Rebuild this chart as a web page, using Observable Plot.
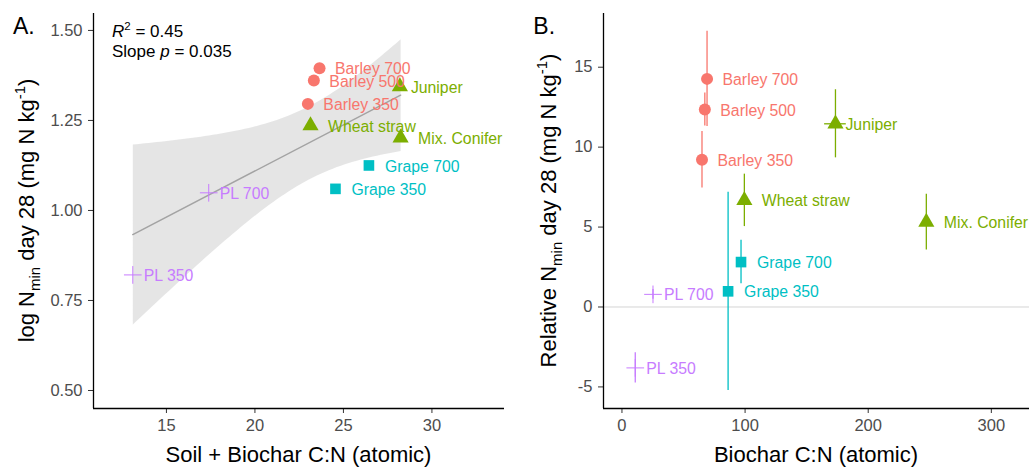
<!DOCTYPE html>
<html><head><meta charset="utf-8">
<script src="https://cdn.jsdelivr.net/npm/d3@7"></script>
<script src="https://cdn.jsdelivr.net/npm/@observablehq/plot@0.6"></script>
<style>
body{margin:0;background:#fff;}
#wrap{position:relative;width:1029px;height:467px;overflow:hidden;background:#fff;}
.panel{position:absolute;top:0;}
</style></head><body>
<div id="wrap"><div id="a" class="panel" style="left:0"></div><div id="b" class="panel" style="left:515px"></div></div>
<script>
// ---- data ----
const labels = ["Barley 350","Barley 500","Barley 700","Juniper","Mix. Conifer","Wheat straw","Grape 350","Grape 700","PL 350","PL 700"];
const groups = ["Barley","Barley","Barley","Wood","Wood","Wood","Grape","Grape","PL","PL"];
const groupNames = ["Barley","Wood","Grape","PL"];
const groupColors = ["#F8766D","#7CAE00","#00BFC4","#C77CFF"];
const groupSymbols = ["circle","triangle","square","plus"];
// Panel A: soil + biochar C:N vs log Nmin
const xA = [22.99, 23.33, 23.65, 28.19, 28.23, 23.14, 24.55, 26.44, 13.1, 17.39];
const yA = [1.296, 1.361, 1.395, 1.344, 1.202, 1.236, 1.06, 1.125, 0.821, 1.049];
// Panel B: biochar C:N vs relative Nmin, with errors
const xB = [65.0, 67.3, 69.1, 173.4, 247.2, 99.4, 86.2, 96.7, 10.8, 25.2];
const yB = [9.21, 12.35, 14.27, 11.46, 5.31, 6.67, 0.98, 2.81, -3.81, 0.79];
const yErrB = [1.77, 1.03, 2.98, 2.13, 1.75, 1.64, 6.2, 1.36, 0.95, 0.3];
const xErrB = [0, 0, 0, 8.8, 0, 0, 0, 0, 0, 0];
const xTicksA = [15, 20, 25, 30];
const yTicksA = [0.5, 0.75, 1.0, 1.25, 1.5];
const xTicksB = [0, 100, 200, 300];
const yTicksB = [-5, 0, 5, 10, 15];
const xDomA = [10.88, 34.1], yDomA = [0.45, 1.547];
const xDomB = [-15, 331], yDomB = [-6.35, 18.36];

const FONT = "'Liberation Sans', Arial, Helvetica, sans-serif";
const dataA = labels.map((l, i) => ({label: l, group: groups[i], x: xA[i], y: yA[i]}));
const dataB = labels.map((l, i) => ({label: l, group: groups[i], x: xB[i], y: yB[i], ye: yErrB[i], xe: xErrB[i]}));
const colorOpt = {domain: groupNames, range: groupColors};
const symbolOpt = {domain: groupNames, range: groupSymbols};
const dxFor = {Barley: 15.5, Wood: 17.5, Grape: 16, PL: 11};
const TICK_FS = 16.5, LABEL_FS = 15.8;

function pointMarks(data) {
  const filled = data.filter(d => d.group !== "PL");
  const plus = data.filter(d => d.group === "PL");
  return [
    Plot.dot(filled, {x: "x", y: "y", fill: "group", symbol: "group", r: 6, stroke: "none"}),
    Plot.dot(plus, {x: "x", y: "y", stroke: "group", symbol: "group", r: 5.75, fill: "none", strokeWidth: 1})
  ];
}
function labelMarks(data, juniperDx) {
  return groupNames.map(g => Plot.text(data.filter(d => d.group === g && d.label !== "Juniper"), {
    x: "x", y: "y", text: "label", fill: "group", textAnchor: "start", dx: dxFor[g], dy: 1, fontSize: LABEL_FS
  })).concat([Plot.text(data.filter(d => d.label === "Juniper"), {
    x: "x", y: "y", text: "label", fill: "group", textAnchor: "start", dx: juniperDx, dy: 1.5, fontSize: LABEL_FS
  })]);
}
function axes(xt, yt, yfmt) {
  return [
    Plot.axisX({ticks: xt, tickSize: 5, tickPadding: 6, fontSize: TICK_FS, tickFormat: d => String(d), label: null, fill: "#4d4d4d", stroke: "#333"}),
    Plot.axisY({ticks: yt, tickSize: 5, tickPadding: 6, fontSize: TICK_FS, tickFormat: yfmt, label: null, fill: "#4d4d4d", stroke: "#333"})
  ];
}
const baseStyle = {fontFamily: FONT, fontSize: "16.5px", color: "#4d4d4d", background: "white", overflow: "visible"};

const plotA = Plot.plot({
  width: 515, height: 467,
  marginLeft: 93, marginRight: 11, marginTop: 13, marginBottom: 59,
  style: baseStyle,
  x: {domain: xDomA}, y: {domain: yDomA},
  color: colorOpt, symbol: symbolOpt,
  marks: [
    Plot.linearRegressionY(dataA, {x: "x", y: "y", stroke: "#a3a3a3", strokeWidth: 1.5, fill: "#999", fillOpacity: 0.25}),
    ...pointMarks(dataA),
    ...labelMarks(dataA, 11),
    ...axes(xTicksA, yTicksA, d3.format(".2f")),
    Plot.ruleX([xDomA[0]], {stroke: "black", strokeWidth: 1.3}),
    Plot.ruleY([yDomA[0]], {stroke: "black", strokeWidth: 1.3})
  ]
});

const plotB = Plot.plot({
  width: 514, height: 467,
  marginLeft: 88, marginRight: 0, marginTop: 13, marginBottom: 59,
  style: baseStyle,
  x: {domain: xDomB}, y: {domain: yDomB},
  color: colorOpt, symbol: symbolOpt,
  marks: [
    Plot.ruleY([0], {stroke: "#d4d4d4", strokeWidth: 1}),
    Plot.ruleX(dataB, {x: "x", y1: d => d.y - d.ye, y2: d => d.y + d.ye, stroke: "group", strokeWidth: 1.3}),
    Plot.ruleY(dataB.filter(d => d.xe > 0), {y: "y", x1: d => d.x - d.xe, x2: d => d.x + d.xe, stroke: "group", strokeWidth: 1.3}),
    ...pointMarks(dataB),
    ...labelMarks(dataB, 10),
    ...axes(xTicksB, yTicksB, d => String(d)),
    Plot.ruleX([xDomB[0]], {stroke: "black", strokeWidth: 1.3}),
    Plot.ruleY([yDomB[0]], {stroke: "black", strokeWidth: 1.3})
  ]
});

document.getElementById("a").appendChild(plotA);
document.getElementById("b").appendChild(plotB);

function decorate(svgEl, opts) {
  const svg = d3.select(svgEl);
  const g = svg.append("g").attr("font-family", FONT).attr("fill", "black").attr("text-anchor", "start");
  g.append("text").attr("x", opts.tagX).attr("y", 33.5).attr("font-size", 23).text(opts.tag);
  // x title
  g.append("text").attr("x", opts.xTitleX).attr("y", 461.5).attr("font-size", 22)
    .attr("text-anchor", "middle").text(opts.xTitle);
  // y title with subscript/superscript
  const yt = g.append("text").attr("transform", `translate(${opts.yTitleX},210.5) rotate(-90)`)
    .attr("font-size", 22).attr("text-anchor", "middle");
  yt.append("tspan").text(opts.yPrefix + "N");
  yt.append("tspan").attr("font-size", 15).attr("dy", 6).text("min");
  yt.append("tspan").attr("dy", -6).text(" day 28 (mg N kg");
  yt.append("tspan").attr("font-size", 15).attr("dy", -9).text("-1");
  yt.append("tspan").attr("dy", 9).text(")");
  return g;
}
const gA = decorate(plotA, {tag: "A.", tagX: 13, xTitleX: 298.5, xTitle: "Soil + Biochar C:N (atomic)", yTitleX: 34, yPrefix: "log "});
decorate(plotB, {tag: "B.", tagX: 18.3, xTitleX: 301, xTitle: "Biochar C:N (atomic)", yTitleX: 41, yPrefix: "Relative "});

// annotation on panel A
const r2 = gA.append("text").attr("x", 112).attr("y", 36.7).attr("font-size", 17);
r2.append("tspan").attr("font-style", "italic").text("R");
r2.append("tspan").attr("font-size", 11.5).attr("dy", -7).text("2");
r2.append("tspan").attr("dy", 7).text(" = 0.45");
const sl = gA.append("text").attr("x", 112).attr("y", 56.7).attr("font-size", 17);
sl.append("tspan").text("Slope ");
sl.append("tspan").attr("font-style", "italic").text("p");
sl.append("tspan").text(" = 0.035");
</script>
</body></html>
